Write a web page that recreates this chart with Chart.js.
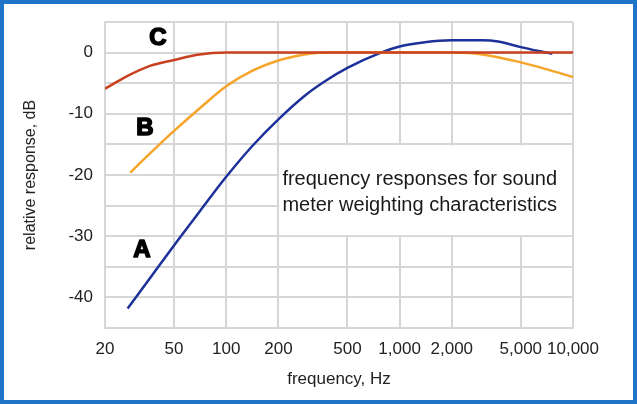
<!DOCTYPE html>
<html>
<head>
<meta charset="utf-8">
<script src="https://cdn.jsdelivr.net/npm/chart.js@4/dist/chart.umd.min.js"></script>
<style>
  html, body { margin: 0; padding: 0; background: #ffffff; }
  #wrap { position: absolute; left: 0; top: 0; width: 637px; height: 404px; box-sizing: border-box; border: 4px solid #1f74c8; background: #ffffff; }
  canvas { display: block; }
</style>
</head>
<body>
<div id="wrap"><canvas id="c" width="629" height="396"></canvas></div>
<script>
// ---- data ----
const xTickValues = [20, 50, 100, 200, 500, 1000, 2000, 5000, 10000];
const xTickLabels = ['20', '50', '100', '200', '500', '1,000', '2,000', '5,000', '10,000'];

// A-weighting (blue)
const freqA = [27, 35, 50, 71, 100, 141, 200, 285, 375, 500, 780, 1000, 1400, 2000, 3000, 3700, 5000, 6200, 7600];
const dbA   = [-41.8, -37.5, -31.5, -25.8, -20.3, -15.3, -10.9, -7.0, -4.6, -2.5, 0.0, 1.0, 1.7, 2.0, 2.0, 1.8, 0.9, 0.3, -0.2];

// B-weighting (orange)
const freqB = [28, 36, 50, 71, 100, 141, 200, 250, 300, 400, 1000, 2000, 3000, 5000, 7000, 10000];
const dbB   = [-19.6, -16.6, -12.8, -9.0, -5.5, -3.0, -1.3, -0.6, -0.2, 0.0, 0.0, 0.0, -0.3, -1.6, -2.7, -4.0];

// C-weighting (red)
const freqC = [20, 27, 36, 50, 70, 100, 1000, 10000];
const dbC   = [-5.9, -3.8, -2.2, -1.2, -0.3, 0.0, 0.0, 0.0];

const seriesNames = ['A', 'B', 'C'];
// curve letter labels: [letter, frequency, dB]
const curveLabels = [['C', 40.4, 2.4], ['B', 34.0, -12.3], ['A', 32.7, -32.3]];
const noteLines = ['frequency responses for sound', 'meter weighting characteristics'];
// note box spans this cell of the grid
const noteFreqRange = [200, 10000];
const noteDbRange = [-30, -15];

function pts(xs, ys) { return xs.map((x, i) => ({ x: x, y: ys[i] })); }

const GRID = '#d6d6d6';
const TEXT = '#222222';

const overlay = {
  id: 'overlay',
  beforeDatasetsDraw(chart) {
    const { ctx, scales: { x, y } } = chart;
    // white note box covering the inner grid lines
    const l = x.getPixelForValue(noteFreqRange[0]) + 1;
    const r = x.getPixelForValue(noteFreqRange[1]) - 1;
    const t = y.getPixelForValue(noteDbRange[1]) + 1;
    const b = y.getPixelForValue(noteDbRange[0]) - 1;
    ctx.save();
    ctx.fillStyle = '#ffffff';
    ctx.fillRect(l, t, r - l, b - t);
    ctx.fillStyle = '#1a1a1a';
    ctx.font = '20px "Liberation Sans", Arial, sans-serif';
    ctx.textBaseline = 'alphabetic';
    ctx.textAlign = 'left';
    ctx.fillText(noteLines[0], l + 3, t + 40, 282);
    ctx.fillText(noteLines[1], l + 3, t + 66, 284);
    ctx.restore();
  },
  afterDatasetsDraw(chart) {
    const { ctx, scales: { x, y } } = chart;
    ctx.save();
    ctx.font = 'bold 24px "Liberation Sans", Arial, sans-serif';
    ctx.textAlign = 'center';
    ctx.textBaseline = 'middle';
    ctx.fillStyle = '#000000';
    ctx.strokeStyle = '#000000';
    ctx.lineWidth = 1.6;
    ctx.lineJoin = 'round';
    curveLabels.forEach(([txt, f, d]) => {
      const px = x.getPixelForValue(f);
      const py = y.getPixelForValue(d);
      ctx.strokeText(txt, px, py);
      ctx.fillText(txt, px, py);
    });
    ctx.restore();
  }
};

new Chart(document.getElementById('c'), {
  type: 'line',
  data: {
    datasets: [
      { label: seriesNames[2], data: pts(freqC, dbC), borderColor: '#c94020', borderWidth: 2.5, pointRadius: 0, cubicInterpolationMode: 'monotone', fill: false },
      { label: seriesNames[1], data: pts(freqB, dbB), borderColor: '#f6a52a', borderWidth: 2.5, pointRadius: 0, cubicInterpolationMode: 'monotone', fill: false },
      { label: seriesNames[0], data: pts(freqA, dbA), borderColor: '#1c3199', borderWidth: 2.5, pointRadius: 0, cubicInterpolationMode: 'monotone', fill: false }
    ]
  },
  options: {
    responsive: false,
    animation: false,
    events: [],
    layout: { padding: { left: 0, top: 18, right: 60, bottom: 0 } },
    plugins: { legend: { display: false }, tooltip: { enabled: false }, title: { display: false } },
    scales: {
      x: {
        type: 'logarithmic',
        min: 20, max: 10000,
        afterBuildTicks(scale) { scale.ticks = xTickValues.map(v => ({ value: v })); },
        afterFit(scale) { scale.height = 72; },
        ticks: {
          autoSkip: false, maxRotation: 0, minRotation: 0,
          padding: 11, color: TEXT,
          font: { family: '"Liberation Sans", Arial, sans-serif', size: 17 },
          callback(value) { const i = xTickValues.indexOf(value); return i >= 0 ? xTickLabels[i] : ''; }
        },
        grid: { color: GRID, lineWidth: 2, drawTicks: false },
        border: { color: GRID, width: 2 },
        title: { display: true, text: 'frequency, Hz', color: TEXT, padding: { top: 0, bottom: 10 },
                 font: { family: '"Liberation Sans", Arial, sans-serif', size: 17 } }
      },
      y: {
        type: 'linear',
        min: -45, max: 5,
        afterFit(scale) { scale.width = 101; scale.paddingTop = 0; scale.paddingBottom = 0; },
        ticks: {
          stepSize: 5, padding: 12, color: TEXT,
          font: { family: '"Liberation Sans", Arial, sans-serif', size: 17 },
          callback(value) { return value % 10 === 0 ? String(value) : ''; }
        },
        grid: { color: GRID, lineWidth: 2, drawTicks: false },
        border: { color: GRID, width: 2 },
        title: { display: true, text: 'relative response, dB', color: TEXT, padding: { top: 17, bottom: 0 },
                 font: { family: '"Liberation Sans", Arial, sans-serif', size: 16 } }
      }
    }
  },
  plugins: [overlay]
});
</script>
</body>
</html>
